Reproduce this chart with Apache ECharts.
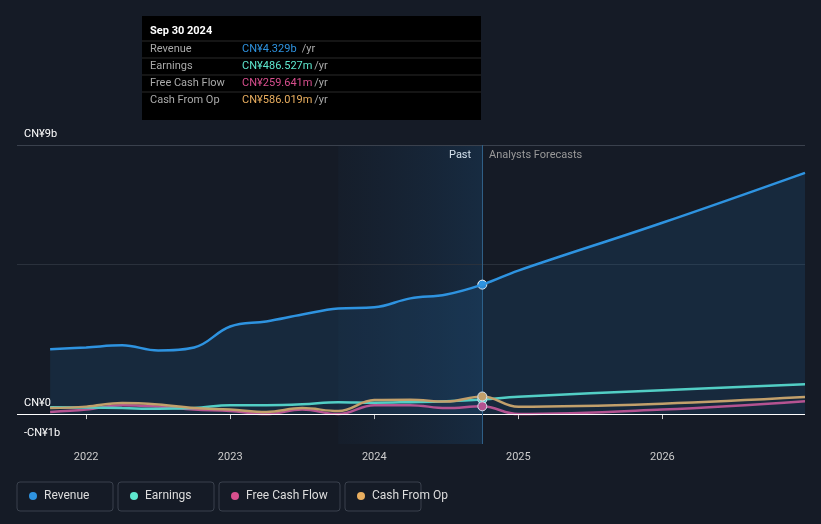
<!DOCTYPE html><html><head><meta charset="utf-8"><script src="https://cdn.jsdelivr.net/npm/echarts@6/dist/echarts.min.js"></script>
<style>body{margin:0;background:#151b26}#c{width:821px;height:524px}</style></head><body><div id="c"></div><script>
const years=[2021.75,2022,2022.25,2022.5,2022.75,2023,2023.25,2023.5,2023.75,2024,2024.25,2024.5,2024.75,2025,2026,2026.99];
const revenue=[2.17,2.23,2.3,2.13,2.23,2.93,3.1,3.33,3.53,3.57,3.87,4.0,4.33,4.8,6.4,8.07];
const earnings=[0.23,0.22,0.2,0.18,0.2,0.3,0.3,0.33,0.4,0.38,0.4,0.43,0.49,0.58,0.8,1.0];
const fcf=[0.07,0.15,0.3,0.25,0.15,0.1,0.0,0.15,0.0,0.3,0.3,0.2,0.26,0.0,0.15,0.43];
const cfo=[0.2,0.25,0.37,0.32,0.2,0.15,0.07,0.2,0.1,0.47,0.48,0.42,0.59,0.25,0.35,0.57];
const xTicks=[2022,2023,2024,2025,2026];
const yTicks=[-1,0,9];
const pairs=a=>years.map((y,i)=>[y,a[i]]);
const ch=echarts.init(document.getElementById('c'));
const ln=(name,data,color,w,extra)=>Object.assign({name,type:'line',data:pairs(data),smooth:0.4,showSymbol:false,lineStyle:{color,width:w},itemStyle:{color},
 markPoint:{symbol:'circle',symbolSize:9,itemStyle:{color,borderColor:'#fff',borderWidth:1},label:{show:false},data:[{coord:[2024.75,data[12]]}]}},extra||{});
ch.setOption({backgroundColor:'#151b26',animation:false,
grid:{left:17,right:16,top:145,bottom:80},
xAxis:{type:'value',min:2021.52,max:2026.99,axisLine:{show:false},splitLine:{show:false},
 axisTick:{customValues:xTicks,lineStyle:{color:'#ccc'},length:5},
 axisLabel:{customValues:xTicks,color:'#ccc',fontSize:11,fontFamily:'Roboto',margin:8,formatter:v=>String(v)}},
yAxis:{type:'value',min:-1,max:9,splitLine:{show:false},axisLine:{show:false},axisTick:{show:false},
 axisLabel:{customValues:yTicks,inside:true,verticalAlign:'bottom',padding:[0,0,5,0],margin:7,color:'#fff',fontSize:11,fontFamily:'Roboto',formatter:v=>v===0?'CN¥0':(v<0?'-CN¥'+(-v)+'b':'CN¥'+v+'b')}},
series:[
 ln('Revenue',revenue,'#2e93e0',2.5,{areaStyle:{color:'rgba(35,100,160,0.28)'},z:5,
  markLine:{silent:true,symbol:'none',label:{show:false},data:[{yAxis:9,lineStyle:{color:'#3a414d',type:'solid',width:1}},{yAxis:5,lineStyle:{color:'#2a313c',type:'solid',width:1}},{yAxis:0,lineStyle:{color:'#ffffff',type:'solid',width:1}},{xAxis:2024.75,lineStyle:{color:'#2f5f86',type:'solid',width:1}}]},
  markArea:{silent:true,itemStyle:{color:new echarts.graphic.LinearGradient(0,0,1,0,[{offset:0,color:'rgba(30,80,130,0.05)'},{offset:1,color:'rgba(30,100,160,0.22)'}])},data:[[{xAxis:2023.75},{xAxis:2024.75}]]}}),
 ln('Earnings',earnings,'#5ee8cf',2.5,{z:4}),
 ln('Free Cash Flow',fcf,'#d84f8e',2.5,{z:3}),
 ln('Cash From Op',cfo,'#e9ae5f',2.5,{z:4})
],
graphic:[
 {type:'text',left:449,top:150,style:{text:'Past',fill:'#fff',font:'11px Roboto'}},
 {type:'text',left:489,top:150,style:{text:'Analysts Forecasts',fill:'#999',font:'11px Roboto'}},
 {type:'rect',shape:{x:142,y:16,width:339,height:104},style:{fill:'#000'}},
 {type:'text',x:150,y:26,style:{text:'Sep 30 2024',fill:'#fff',font:'bold 11px Roboto'}},
 ...[['Revenue','CN¥4.329b','#2e93e0'],['Earnings','CN¥486.527m','#5ee8cf'],['Free Cash Flow','CN¥259.641m','#d84f8e'],['Cash From Op','CN¥586.019m','#e9ae5f']].flatMap((r,i)=>[
  {type:'line',shape:{x1:142,y1:41+i*17,x2:481,y2:41+i*17},style:{stroke:'#2a2a2a',lineWidth:1}},
  {type:'text',x:150,y:44+i*17,style:{text:r[0],fill:'#aaa',font:'11px Roboto'}},
  {type:'text',x:242,y:44+i*17,style:{text:r[1],fill:r[2],font:'11px Roboto'}},
  {type:'text',x:242+(r[1].length*6.3)+3,y:44+i*17,style:{text:'/yr',fill:'#aaa',font:'11px Roboto'}}]),
 ...[['Revenue','#2e93e0',17,96],['Earnings','#5ee8cf',118,96],['Free Cash Flow','#d84f8e',219,121],['Cash From Op','#e9ae5f',345,76]].map(l=>({type:'group',children:[
  {type:'rect',shape:{x:l[2],y:482,width:l[3],height:29,r:3},style:{fill:'none',stroke:'#3a414d'}},
  {type:'circle',shape:{cx:l[2]+16,cy:496,r:4},style:{fill:l[1]}},
  {type:'text',x:l[2]+27,y:490,style:{text:l[0],fill:'#ddd',font:'12px Roboto'}}]}))
]});
</script></body></html>
